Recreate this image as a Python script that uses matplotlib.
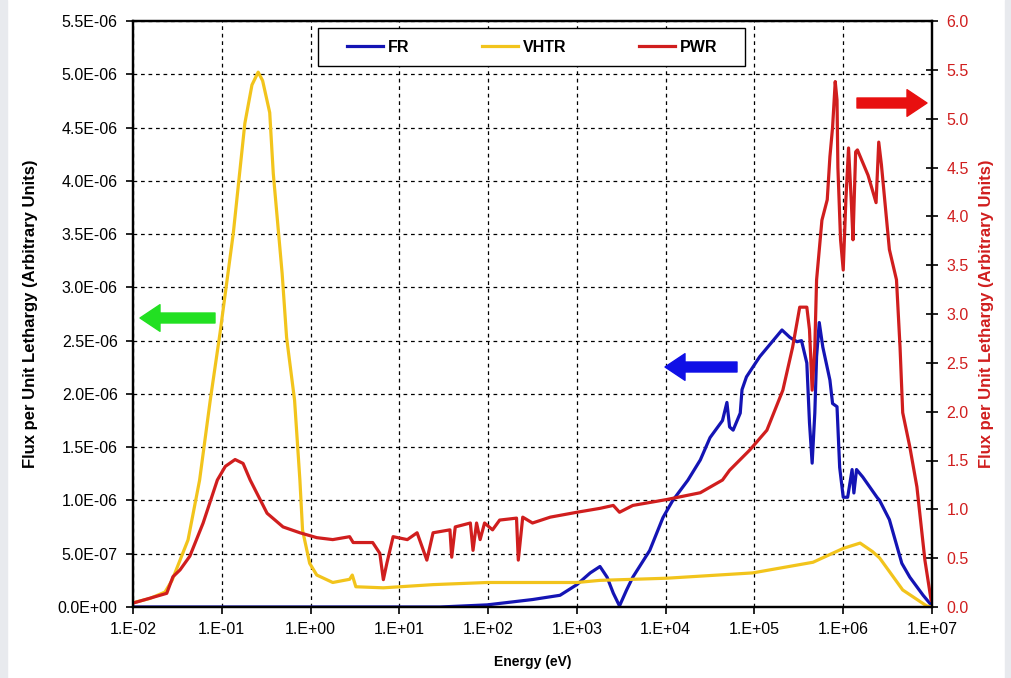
import numpy as np
import matplotlib
matplotlib.use("Agg")
import matplotlib.pyplot as plt
from matplotlib.ticker import FuncFormatter, FixedLocator, NullLocator

plt.rcParams['font.family'] = ['Liberation Sans', 'DejaVu Sans']

# ---------------------------------------------------------
# Datos (energia en eV)
# ---------------------------------------------------------
vhtr_logE = [-2.00, -1.81, -1.64, -1.56, -1.47, -1.38, -1.25, -1.13, -1.02, -0.87,
             -0.74, -0.66, -0.59, -0.54, -0.46, -0.42, -0.32, -0.27, -0.18, -0.12,
             -0.09, -0.01, 0.07, 0.25, 0.44, 0.47, 0.51, 0.82, 1.38, 1.99,
             2.50, 3.00, 3.26, 4.01, 4.98, 5.32, 5.66, 6.00, 6.19, 6.33,
             6.41, 6.67, 6.94, 7.00]
vhtr_flux = [0.04, 0.08, 0.14, 0.25, 0.44, 0.63, 1.19, 1.94, 2.57, 3.51,
             4.54, 4.90, 5.02, 4.94, 4.64, 4.07, 3.13, 2.53, 1.94, 1.19,
             0.72, 0.41, 0.30, 0.23, 0.26, 0.30, 0.19, 0.18, 0.21, 0.23,
             0.23, 0.23, 0.25, 0.27, 0.32, 0.37, 0.42, 0.55, 0.60, 0.52,
             0.46, 0.16, 0.01, 0.0]  # x 1e-6

fr_logE = [-2.00, 1.01, 1.46, 1.99, 2.50, 2.81, 3.00, 3.15, 3.26, 3.34,
           3.41, 3.48, 3.56, 3.63, 3.82, 3.97, 4.08, 4.25, 4.39, 4.50,
           4.64, 4.69, 4.72, 4.76, 4.84, 4.86, 4.91, 5.06, 5.31, 5.40,
           5.48, 5.53, 5.59, 5.62, 5.65, 5.68, 5.70, 5.73, 5.77, 5.85,
           5.88, 5.93, 5.96, 6.00, 6.05, 6.10, 6.12, 6.15, 6.22, 6.38,
           6.41, 6.52, 6.66, 6.75, 6.90, 6.98, 7.00]
fr_flux = [0.0, 0.0, 0.0, 0.02, 0.07, 0.11, 0.21, 0.32, 0.38, 0.28,
           0.13, 0.01, 0.16, 0.28, 0.53, 0.84, 1.00, 1.19, 1.38, 1.59,
           1.75, 1.92, 1.69, 1.66, 1.82, 2.04, 2.16, 2.35, 2.60, 2.53,
           2.49, 2.50, 2.29, 1.73, 1.35, 1.82, 2.35, 2.67, 2.44, 2.13,
           1.91, 1.88, 1.31, 1.03, 1.03, 1.29, 1.07, 1.29, 1.22, 1.03,
           1.00, 0.82, 0.41, 0.28, 0.11, 0.03, 0.0]  # x 1e-6

pwr_logE = [-2.00, -1.62, -1.55, -1.47, -1.36, -1.21, -1.05, -0.96, -0.85, -0.76,
            -0.68, -0.49, -0.31, -0.12, 0.07, 0.25, 0.44, 0.48, 0.70, 0.78,
            0.82, 0.86, 0.93, 1.09, 1.20, 1.31, 1.38, 1.57, 1.59, 1.63,
            1.80, 1.83, 1.87, 1.91, 1.96, 2.05, 2.13, 2.32, 2.34, 2.39,
            2.50, 2.70, 3.00, 3.26, 3.41, 3.48, 3.63, 4.01, 4.39, 4.64,
            4.72, 4.95, 5.14, 5.32, 5.43, 5.51, 5.59, 5.62, 5.65, 5.68,
            5.70, 5.76, 5.82, 5.85, 5.88, 5.91, 5.93, 5.94, 5.97, 6.00,
            6.03, 6.06, 6.09, 6.11, 6.14, 6.16, 6.28, 6.37, 6.40, 6.43,
            6.52, 6.60, 6.64, 6.67, 6.75, 6.83, 6.92, 6.99]
pwr_flux = [0.04, 0.14, 0.31, 0.38, 0.52, 0.86, 1.30, 1.44, 1.51, 1.47,
            1.30, 0.96, 0.82, 0.76, 0.71, 0.69, 0.72, 0.66, 0.66, 0.55,
            0.28, 0.45, 0.72, 0.69, 0.76, 0.48, 0.76, 0.79, 0.51, 0.82,
            0.86, 0.58, 0.86, 0.69, 0.86, 0.79, 0.89, 0.91, 0.48, 0.92,
            0.86, 0.92, 0.97, 1.01, 1.04, 0.97, 1.04, 1.10, 1.17, 1.30,
            1.40, 1.61, 1.81, 2.22, 2.66, 3.07, 3.07, 2.84, 2.22, 2.66,
            3.35, 3.96, 4.17, 4.61, 4.91, 5.38, 5.19, 4.50, 3.76, 3.45,
            4.17, 4.70, 4.17, 3.76, 4.66, 4.68, 4.42, 4.14, 4.76, 4.53,
            3.66, 3.35, 2.66, 1.99, 1.64, 1.23, 0.48, 0.07]

x_ticks = [1e-2, 1e-1, 1e0, 1e1, 1e2, 1e3, 1e4, 1e5, 1e6, 1e7]
left_ticks = np.arange(0, 5.51e-6, 0.5e-6)
right_ticks = np.arange(0, 6.01, 0.5)

c_fr = '#1414b4'
c_vhtr = '#f2c41c'
c_pwr = '#d01e1e'

# ---------------------------------------------------------
# Figura
# ---------------------------------------------------------
fig = plt.figure(figsize=(10.12, 6.78), dpi=100)
fig.patch.set_facecolor('white')
fig.patches.append(plt.Rectangle((0, 0), 7 / 1012, 1, transform=fig.transFigure,
                                 color='#e8eaee', zorder=-1))
fig.patches.append(plt.Rectangle((1005 / 1012, 0), 7 / 1012, 1, transform=fig.transFigure,
                                 color='#e8eaee', zorder=-1))

ax = fig.add_axes([133 / 1012, 71 / 678, 799 / 1012, 586 / 678])
ax2 = ax.twinx()

lw = 2.3
l_fr, = ax.plot(10 ** np.array(fr_logE), np.array(fr_flux) * 1e-6, color=c_fr, lw=lw, label='FR')
l_vhtr, = ax.plot(10 ** np.array(vhtr_logE), np.array(vhtr_flux) * 1e-6, color=c_vhtr, lw=lw, label='VHTR')
l_pwr, = ax2.plot(10 ** np.array(pwr_logE), pwr_flux, color=c_pwr, lw=lw, label='PWR')

ax.set_xscale('log')
ax.set_xlim(1e-2, 1e7)
ax.set_ylim(0, 5.5e-6)
ax2.set_ylim(0, 6.0)

ax.xaxis.set_major_locator(FixedLocator(x_ticks))
ax.xaxis.set_minor_locator(NullLocator())
ax.xaxis.set_major_formatter(FuncFormatter(lambda v, p: '1.E%+03d' % int(round(np.log10(v)))))
ax.set_yticks(left_ticks)
ax.yaxis.set_major_formatter(FuncFormatter(lambda v, p: '%.1E' % v))
ax2.set_yticks(right_ticks)
ax2.yaxis.set_major_formatter(FuncFormatter(lambda v, p: '%.1f' % v))

ax.grid(True, which='major', color='black', linestyle=(0, (3, 3)), linewidth=0.9)
for s in ['left', 'right', 'top', 'bottom']:
    ax.spines[s].set_linewidth(1.6)
    ax2.spines[s].set_linewidth(1.6)

ax.tick_params(axis='both', labelsize=11.5, direction='out', length=5, width=1.2, pad=6)
ax2.tick_params(axis='y', labelsize=11.5, direction='inout', length=9, width=1.2,
                labelcolor=c_pwr, pad=6)

ax.set_xlabel('Energy (eV)', fontsize=10, fontweight='bold')
ax.xaxis.set_label_coords(0.5, -0.094)
ax.xaxis.label.set_va('center')
ax.set_ylabel('Flux per Unit Lethargy (Arbitrary Units)', fontsize=12, fontweight='bold')
ax.yaxis.set_label_coords(-0.1277, 0.5)
ax.yaxis.label.set_va('center')
ax2.set_ylabel('Flux per Unit Lethargy (Arbitrary Units)', fontsize=12, fontweight='bold', color=c_pwr)
ax2.yaxis.set_label_coords(1.0676, 0.5)
ax2.yaxis.label.set_va('center')

# recuadro de la leyenda
ax2.add_patch(plt.Rectangle((0.2315, 0.9232), 0.5344, 0.0648, transform=ax2.transAxes,
                            facecolor='white', edgecolor='black', lw=1.0, zorder=8))
leg = ax2.legend(handles=[l_fr, l_vhtr, l_pwr], ncol=3, loc='center',
                 bbox_to_anchor=(0.2678, 0.9356, 0.4631, 0.04), mode='expand',
                 borderaxespad=0, borderpad=0, frameon=False,
                 prop={'size': 11.5, 'weight': 'bold'},
                 handlelength=2.25, handletextpad=0.3)
leg.set_zorder(9)

# flechas que indican el eje de cada curva
arrow_style = 'simple,head_length=0.9,head_width=1.2,tail_width=0.45'
for tail, head, col in [((215, 360), (140, 360), '#22e022'),
                        ((737, 311), (665, 311), '#1010e6'),
                        ((857, 575), (927, 575), '#e81010')]:
    ax.annotate('', xy=head, xytext=tail, xycoords='figure pixels', textcoords='figure pixels',
                arrowprops=dict(arrowstyle=arrow_style, color=col, mutation_scale=16,
                                shrinkA=0, shrinkB=0))

fig.savefig('out.png', dpi=100)
